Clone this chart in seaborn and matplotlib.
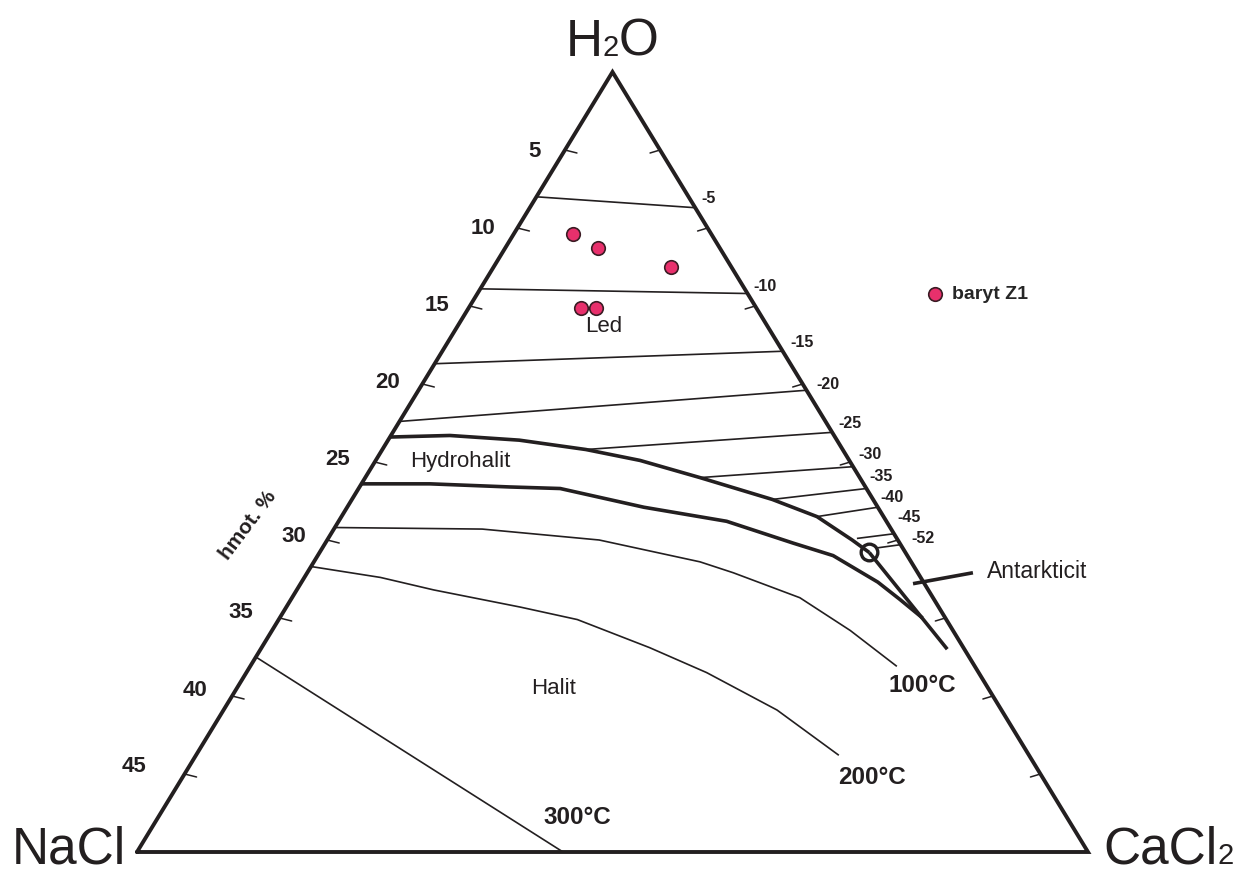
import numpy as np
import matplotlib
matplotlib.use("Agg")
import matplotlib.pyplot as plt
import seaborn as sns

# ---------------- data: compositions in wt% NaCl / wt% CaCl2 (H2O = rest) ----------------
# the triangle shows the water-rich half of the system: 0-50 wt% total salt
SCALE = 50.0

salt_ticks = [5, 10, 15, 20, 25, 30, 35, 40, 45]

# ice-field isotherms (deg C): start point (NaCl, CaCl2), end on the H2O-CaCl2 side (CaCl2)
ice_T = [-5, -10, -15, -20, -25, -30, -35, -40, -45, -52]
ice_start_nacl = [8.0, 13.9, 18.7, 22.4, 13.5, 8.4, 5.3, 3.5, 2.1, 1.3]
ice_start_cacl2 = [0.0, 0.0, 0.0, 0.0, 10.7, 17.6, 22.1, 25.0, 27.8, 29.2]
ice_end_cacl2 = [8.7, 14.2, 17.9, 20.4, 23.1, 25.3, 26.7, 27.9, 29.6, 30.3]

# ice / hydrohalite cotectic
ice_hh_nacl = [23.4, 20.2, 16.7, 13.5, 11.0, 8.4, 5.3, 3.5, 2.4, 1.9]
ice_hh_cacl2 = [0.0, 3.1, 6.9, 10.7, 13.9, 17.6, 22.1, 25.0, 27.6, 28.9]

# eutectic point and antarcticite boundary
eutectic_nacl, eutectic_cacl2 = 1.9, 28.9
antarc_nacl = [1.9, 0.9]
antarc_cacl2 = [28.9, 36.1]

# hydrohalite / halite cotectic
hh_hal_nacl = [26.4, 22.8, 18.7, 16.1, 12.3, 8.4, 5.6, 3.9, 2.4, 1.8, 1.2]
hh_hal_cacl2 = [0.0, 3.6, 7.9, 10.6, 15.6, 20.4, 24.6, 27.1, 30.3, 32.0, 33.8]

# halite isotherms
iso100_nacl = [29.2, 21.5, 15.7, 11.1, 9.7, 7.0, 5.4, 4.1]
iso100_cacl2 = [0.0, 7.8, 14.3, 20.3, 22.4, 26.7, 30.4, 34.0]
iso200_nacl = [31.7, 28.4, 26.0, 22.0, 19.4, 16.5, 14.3, 11.8, 10.0]
iso200_cacl2 = [0.0, 4.0, 7.2, 12.3, 15.7, 20.4, 24.2, 29.1, 33.8]
iso300_nacl = [37.5, 27.6]
iso300_cacl2 = [0.0, 22.4]

# antarcticite pointer
pointer_nacl = [0.6, -2.9]
pointer_cacl2 = [32.2, 35.0]

# fluid inclusions in barite (sample Z1)
samples_nacl = [7.3, 6.4, 3.2, 9.2, 8.4]
samples_cacl2 = [3.1, 4.9, 9.3, 5.9, 6.7]
sample_label = "baryt Z1"

# ---------------- style ----------------
sns.set_style("white")
plt.rcParams["font.family"] = ["Liberation Sans", "DejaVu Sans"]

INK = "#231f20"
PINK = "#e8306c"
W, H = 1237, 869

# label placement (pixel offsets)
tick_label_dx = [-24, -22, -20, -22, -25, -21, -26, -25, -38]
tick_label_dy = [-1, 0, 1, 2, 3, 4, 5, 6, 7]
iso_label_off = [(6, 9), (6, 7), (8, 9), (10, 6), (6, 9), (5, 12), (3, 12), (3, 10), (3, 16), (11, 6)]


def tern(nacl, cacl2):
    n = np.asarray(nacl, dtype=float) / SCALE
    c = np.asarray(cacl2, dtype=float) / SCALE
    w = 1.0 - n - c
    return c + 0.5 * w, w


fig = plt.figure(figsize=(W / 100, H / 100), dpi=100)
fig.patch.set_facecolor("white")
ax = fig.add_axes([137 / W, 17 / H, 951 / W, 780 / H])
ax.set_xlim(0, 1)
ax.set_ylim(0, 1)
ax.axis("off")


def line(nacl, cacl2, lw):
    x, y = tern(nacl, cacl2)
    sns.lineplot(x=x, y=y, sort=False, estimator=None, color=INK, linewidth=lw,
                 ax=ax, legend=False, clip_on=False,
                 solid_capstyle="butt", solid_joinstyle="round")


# triangle frame
tx, ty = tern([SCALE, 0, 0, SCALE], [0, SCALE, 0, 0])
sns.lineplot(x=tx, y=ty, sort=False, estimator=None, color=INK, linewidth=2.8,
             ax=ax, legend=False, clip_on=False, solid_joinstyle="miter")

# ticks and labels on the sides
for s, dx, dy in zip(salt_ticks, tick_label_dx, tick_label_dy):
    lx, ly = tern(s, 0)
    rx, ry = tern(0, s)
    ax.plot([lx, lx + 12 / 951], [ly, ly - 3 / 780], color=INK, lw=1.1, clip_on=False)
    ax.plot([rx, rx - 10 / 951], [ry, ry - 3 / 780], color=INK, lw=1.1, clip_on=False)
    ax.annotate(str(s), xy=(lx, ly), xytext=(dx, dy), textcoords="offset pixels",
                ha="right", va="center", fontsize=16, fontweight="bold", color=INK)

# ice isotherms
for t, n0, c0, c1, off in zip(ice_T, ice_start_nacl, ice_start_cacl2, ice_end_cacl2, iso_label_off):
    line([n0, 0.0], [c0, c1], 1.2)
    ex, ey = tern(0.0, c1)
    ax.annotate(str(t), xy=(ex, ey), xytext=off, textcoords="offset pixels",
                ha="left", va="center", fontsize=11.5, fontweight="bold", color=INK)

# phase boundaries
line(ice_hh_nacl, ice_hh_cacl2, 2.6)
line(hh_hal_nacl, hh_hal_cacl2, 2.6)
line(antarc_nacl, antarc_cacl2, 2.6)
line(pointer_nacl, pointer_cacl2, 2.6)

# halite isotherms
line(iso100_nacl, iso100_cacl2, 1.2)
line(iso200_nacl, iso200_cacl2, 1.2)
line(iso300_nacl, iso300_cacl2, 1.2)

# eutectic
ex, ey = tern(eutectic_nacl, eutectic_cacl2)
ax.plot([ex], [ey], "o", mfc="none", mec=INK, ms=12, mew=2.4, clip_on=False, zorder=6)

# samples
sx, sy = tern(samples_nacl, samples_cacl2)
sns.scatterplot(x=sx, y=sy, s=95, color=PINK, edgecolor="#3b1c24", linewidth=1.2,
                ax=ax, label=sample_label, zorder=7, clip_on=False)
ax.legend(loc="center left", bbox_to_anchor=(925 / W, 1 - 294 / H),
          bbox_transform=fig.transFigure, frameon=False, handlelength=1.0,
          handletextpad=0.4, borderpad=0, borderaxespad=0,
          prop={"weight": "bold", "size": 14})


def ftext(px, py, s, **kw):
    kw.setdefault("color", INK)
    return fig.text(px / W, 1 - py / H, s, **kw)


def formula(px, py, parts, ha="left"):
    """Place text pieces side by side on one baseline (small digits stay on the baseline)."""
    renderer = fig.canvas.get_renderer()
    items = []
    for s, size in parts:
        t = fig.text(0, 0, s, fontsize=size, color=INK, ha="left", va="baseline")
        items.append((t, t.get_window_extent(renderer).width))
    total = sum(w for _, w in items)
    x = px - total / 2 if ha == "center" else px
    for t, w in items:
        t.set_position((x / W, 1 - py / H))
        x += w


# corner labels
formula(612, 56, [("H", 37), ("2", 21), ("O", 37)], ha="center")
formula(12, 864, [("NaCl", 37)])
formula(1103, 864, [("CaCl", 37), ("2", 21)])

# field labels
ftext(604, 326, "Led", fontsize=16, ha="center", va="center")
ftext(460, 462, "Hydrohalit", fontsize=16, ha="center", va="center")
ftext(554, 688, "Halit", fontsize=16, ha="center", va="center")
ftext(987, 571, "Antarkticit", fontsize=16.5, ha="left", va="center")
ftext(922, 686, "100°C", fontsize=17.5, fontweight="bold", ha="center", va="center")
ftext(872, 778, "200°C", fontsize=17.5, fontweight="bold", ha="center", va="center")
ftext(577, 817, "300°C", fontsize=17.5, fontweight="bold", ha="center", va="center")
ftext(248, 525, "hmot. %", fontsize=15, fontweight="bold", rotation=53,
      ha="center", va="center", rotation_mode="anchor")

fig.savefig("out.png", dpi=100, facecolor="white")
